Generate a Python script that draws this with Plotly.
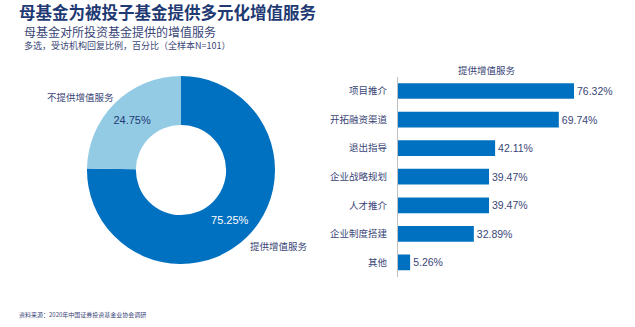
import plotly.graph_objects as go

W, H = 635, 327

# ---- data ----
title = "母基金为被投子基金提供多元化增值服务"
subtitle = "母基金对所投资基金提供的增值服务"
note = "多选，受访机构回复比例，百分比（全样本N=101）"
source = "资料来源：2020年中国证券投资基金业协会调研"

pie_labels = ["提供增值服务", "不提供增值服务"]
pie_values = [75.25, 24.75]

bar_title = "提供增值服务"
bar_categories = ["项目推介", "开拓融资渠道", "退出指导", "企业战略规划", "人才推介", "企业制度搭建", "其他"]
bar_values = [76.32, 69.74, 42.11, 39.47, 39.47, 32.89, 5.26]

# ---- style ----
DARK = "#0070C0"
LIGHT = "#93CBE5"
NAVY = "#1F3A73"
TXT = "#3A4677"
CJK = "Noto Sans CJK SC"
LAT = "Liberation Sans, Arial, sans-serif"


def px(x):
    return x / W


def py(y):
    return 1 - y / H


fig = go.Figure()

fig.add_trace(go.Pie(
    labels=pie_labels,
    values=pie_values,
    sort=False,
    direction="clockwise",
    rotation=0,
    hole=0.48,
    marker=dict(colors=[DARK, LIGHT], line=dict(width=0)),
    texttemplate="%{value:.2f}%",
    textposition="inside",
    insidetextorientation="horizontal",
    textfont=dict(family=LAT, size=11, color=["white", NAVY]),
    domain=dict(x=[px(87), px(275)], y=[py(264), py(76)]),
    showlegend=False,
    hoverinfo="label+value",
))

fig.add_trace(go.Bar(
    x=bar_values,
    y=bar_categories,
    orientation="h",
    marker=dict(color=DARK, line=dict(width=0)),
    width=0.55,
    texttemplate="%{x:.2f}%",
    textposition="outside",
    textfont=dict(family=LAT, size=10.5, color=TXT),
    cliponaxis=False,
    showlegend=False,
    xaxis="x", yaxis="y",
))

fig.update_layout(
    width=W, height=H,
    margin=dict(l=0, r=0, t=0, b=0),
    paper_bgcolor="white",
    plot_bgcolor="white",
    xaxis=dict(domain=[px(398), px(628.6)], range=[0, 100], visible=False, fixedrange=True),
    yaxis=dict(domain=[py(276.7), py(76.7)], autorange="reversed",
               showline=True, linecolor="#BFBFBF", linewidth=1,
               ticks="", showgrid=False, zeroline=False,
               tickfont=dict(family=CJK, size=9.5, color=TXT),
               ticklabelstandoff=8),
)

annotations = [
    dict(text="<b>" + title + "</b>", x=px(17), y=py(12), xanchor="left", yanchor="middle",
         font=dict(family=CJK, size=16.5, color=NAVY)),
    dict(text=subtitle, x=px(22), y=py(31.5), xanchor="left", yanchor="middle",
         font=dict(family=CJK, size=12, color=TXT)),
    dict(text=note, x=px(22), y=py(46), xanchor="left", yanchor="middle",
         font=dict(family=CJK, size=9, color=TXT)),
    dict(text=source, x=px(17), y=py(314), xanchor="left", yanchor="middle",
         font=dict(family=CJK, size=6, color=TXT)),
    dict(text=bar_title, x=px(487), y=py(70), xanchor="center", yanchor="middle",
         font=dict(family=CJK, size=9.5, color=TXT)),
    dict(text=pie_labels[1], x=px(45), y=py(97), xanchor="left", yanchor="middle",
         font=dict(family=CJK, size=9.5, color=TXT)),
    dict(text=pie_labels[0], x=px(248), y=py(246), xanchor="left", yanchor="middle",
         font=dict(family=CJK, size=9.5, color=TXT)),
]
for a in annotations:
    a.update(xref="paper", yref="paper", showarrow=False)
fig.update_layout(annotations=annotations)

fig.write_html("out.html")
